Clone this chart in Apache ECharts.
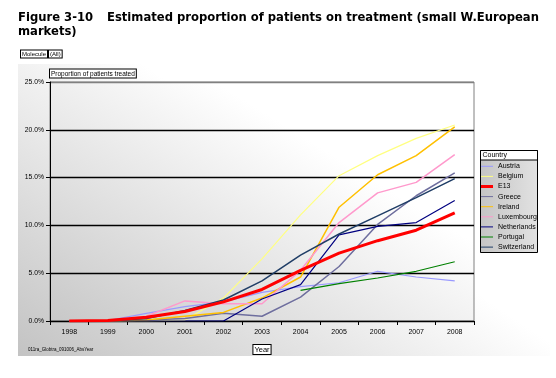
<!DOCTYPE html>
<html>
<head>
<meta charset="utf-8">
<script src="https://cdn.jsdelivr.net/npm/echarts@6/dist/echarts.min.js"></script>
<style>
html,body{margin:0;padding:0;background:#fff;}
#chart{width:556px;height:378px;}
</style>
</head>
<body>
<div id="chart"></div>
<script>
// ---- data ----
var years = ['1998','1999','2000','2001','2002','2003','2004','2005','2006','2007','2008'];
var yTickLabels = ['0.0%','5.0%','10.0%','15.0%','20.0%','25.0%'];
var countries = ['Austria','Belgium','E13','Greece','Ireland','Luxembourg','Netherlands','Portugal','Switzerland'];
var austria     = [0, 0.05, 0.8, 1.5, 2.0, 3.0, 3.6, 4.0, 5.2, 4.6, 4.2];
var belgium     = [0, 0, 0, 0.1, 2.4, 6.5, 11.1, 15.2, 17.3, 19.1, 20.5];
var e13         = [0, 0.05, 0.4, 1.0, 2.0, 3.3, 5.3, 7.1, 8.4, 9.5, 11.3];
var greece      = [0, 0, 0.1, 0.25, 0.8, 0.5, 2.5, 5.7, 10.1, 13.1, 15.5];
var ireland     = [0, 0, 0.1, 0.5, 0.9, 2.4, 4.6, 11.9, 15.3, 17.3, 20.3];
var luxembourg  = [0, 0, 0.5, 2.1, 1.8, 1.8, 5.3, 10.3, 13.4, 14.5, 17.4];
var netherlands = [0, 0, 0, 0, 0, 2.3, 3.8, 9.0, 9.9, 10.3, 12.6];
var portugal    = [null, null, null, null, null, null, 3.2, 3.9, 4.5, 5.2, 6.2];
var switzerland = [0, 0, 0.25, 1.1, 2.2, 4.2, 6.9, 9.1, 11.0, 12.9, 14.9];

var seriesData = [austria, belgium, e13, greece, ireland, luxembourg, netherlands, portugal, switzerland];
var colors = ['#9999FF','#FFFF80','#FF0000','#6E6E9E','#FFC000','#FF99CC','#000080','#008000','#1F3D66'];
var widths = [1.2, 1.2, 3, 1.5, 1.5, 1.5, 1.2, 1.2, 1.5];

var FONT = '"Liberation Sans", Arial, sans-serif';
var TFONT = 'bold 11.6px "DejaVu Sans", Verdana, sans-serif';

var chart = echarts.init(document.getElementById('chart'), null, {renderer:'canvas'});

var series = countries.map(function(name, i){
  return {
    name: name,
    type: 'line',
    data: seriesData[i],
    symbol: 'none',
    z: name === 'E13' ? 5 : 2,
    lineStyle: {color: colors[i], width: widths[i]},
    itemStyle: {color: colors[i]},
    emphasis: {disabled: true}
  };
});

var legendData = countries.map(function(name, i){
  return {
    name: name,
    icon: widths[i] >= 3 ? 'path://M0,0 H12 V3 H0 Z' : 'path://M0,0 H12 V1 H0 Z'
  };
});

var option = {
  animation: false,
  textStyle: {fontFamily: FONT},
  grid: {
    left: 50, right: 82, top: 82, bottom: 57,
    show: true,
    borderColor: '#808080', borderWidth: 1,
    backgroundColor: {
      type: 'linear', x: 0, y: 1, x2: 0.36, y2: -0.03,
      colorStops: [{offset: 0, color: '#C8C8C8'}, {offset: 1, color: '#FFFFFF'}]
    }
  },
  xAxis: {
    type: 'category',
    data: years,
    boundaryGap: true,
    axisLine: {lineStyle: {color: '#000', width: 1}},
    axisTick: {show: true, length: 4, lineStyle: {color: '#000'}},
    axisLabel: {fontSize: 7, color: '#000', margin: 8, fontFamily: FONT},
    splitLine: {show: false},
    name: 'Year',
    nameLocation: 'middle',
    nameGap: 24,
    nameTextStyle: {
      fontSize: 7.5, color: '#000', fontFamily: FONT,
      backgroundColor: '#fff', borderColor: '#000', borderWidth: 1, padding: [1, 1, 0, 1]
    }
  },
  yAxis: {
    type: 'value',
    min: 0, max: 25, interval: 5,
    axisLine: {show: true, lineStyle: {color: '#000', width: 1}},
    axisTick: {show: true, length: 4, lineStyle: {color: '#000'}},
    axisLabel: {
      fontSize: 6.8, color: '#000', margin: 6, fontFamily: FONT,
      formatter: function(v){ return yTickLabels[Math.round(v / 5)]; }
    },
    splitLine: {show: true, lineStyle: {color: ['#000','#000','#000','#000','#000','#808080'], width: 1.3}},
    name: 'Proportion of patients treated',
    nameLocation: 'end',
    nameGap: 1,
    nameTextStyle: {
      fontSize: 6.5, color: '#000', fontFamily: FONT, align: 'left', verticalAlign: 'bottom',
      backgroundColor: '#fff', borderColor: '#000', borderWidth: 1, padding: [1, 1, 0, 1]
    }
  },
  legend: {
    orient: 'vertical',
    left: 481, top: 161.3,
    padding: 0,
    itemWidth: 12, itemHeight: 10, itemGap: 0.1,
    selectedMode: false,
    data: legendData,
    itemStyle: {borderWidth: 0},
    textStyle: {fontSize: 7, lineHeight: 10, color: '#000', fontFamily: FONT}
  },
  graphic: [
    {
      type: 'rect', z: -10, silent: true,
      shape: {x: 18, y: 64, width: 532, height: 292},
      style: {
        fill: {
          type: 'linear', x: 0, y: 1, x2: 0.33, y2: 0.12,
          colorStops: [{offset: 0, color: '#C3C3C3'}, {offset: 1, color: '#FFFFFF'}]
        }
      }
    },
    {
      type: 'rect', z: 3, silent: true,
      shape: {x: 480.5, y: 150.5, width: 57, height: 102},
      style: {
        stroke: '#000', lineWidth: 1,
        fill: {
          type: 'linear', x: 0, y: 0, x2: 1, y2: 0,
          colorStops: [{offset: 0, color: '#C4C4C4'}, {offset: 1, color: '#E2E2E2'}]
        }
      }
    },
    {
      type: 'rect', z: 3, silent: true,
      shape: {x: 480.5, y: 150.5, width: 57, height: 9.5},
      style: {stroke: '#000', lineWidth: 1, fill: '#FFFFFF'}
    },
    {
      type: 'text', z: 4, silent: true,
      style: {x: 482.5, y: 155.5, text: 'Country', font: '7px ' + FONT, fill: '#000', verticalAlign: 'middle'}
    },
    {
      type: 'text', silent: true,
      style: {x: 18, y: 18, text: 'Figure 3-10', font: TFONT, fill: '#000', verticalAlign: 'middle'}
    },
    {
      type: 'text', silent: true,
      style: {x: 107, y: 18, text: 'Estimated proportion of patients on treatment (small W.European', font: TFONT, fill: '#000', verticalAlign: 'middle'}
    },
    {
      type: 'text', silent: true,
      style: {x: 18, y: 32, text: 'markets)', font: TFONT, fill: '#000', verticalAlign: 'middle'}
    },
    {
      type: 'text', silent: true,
      style: {x: 21, y: 54, text: 'Molecule', font: '6px ' + FONT, fill: '#000', verticalAlign: 'middle',
        backgroundColor: '#fff', borderColor: '#000', borderWidth: 1, padding: [1, 1, 0, 1]}
    },
    {
      type: 'text', silent: true,
      style: {x: 49, y: 54, text: '(All)', font: '6px ' + FONT, fill: '#000', verticalAlign: 'middle',
        backgroundColor: '#fff', borderColor: '#000', borderWidth: 1, padding: [1, 1, 0, 1]}
    },
    {
      type: 'text', silent: true,
      style: {x: 28, y: 350, text: '011ra_Globtra_091006_AbsYear', font: '4.5px ' + FONT, fill: '#000', verticalAlign: 'middle'}
    }
  ],
  series: series
};

chart.setOption(option);
</script>
</body>
</html>
